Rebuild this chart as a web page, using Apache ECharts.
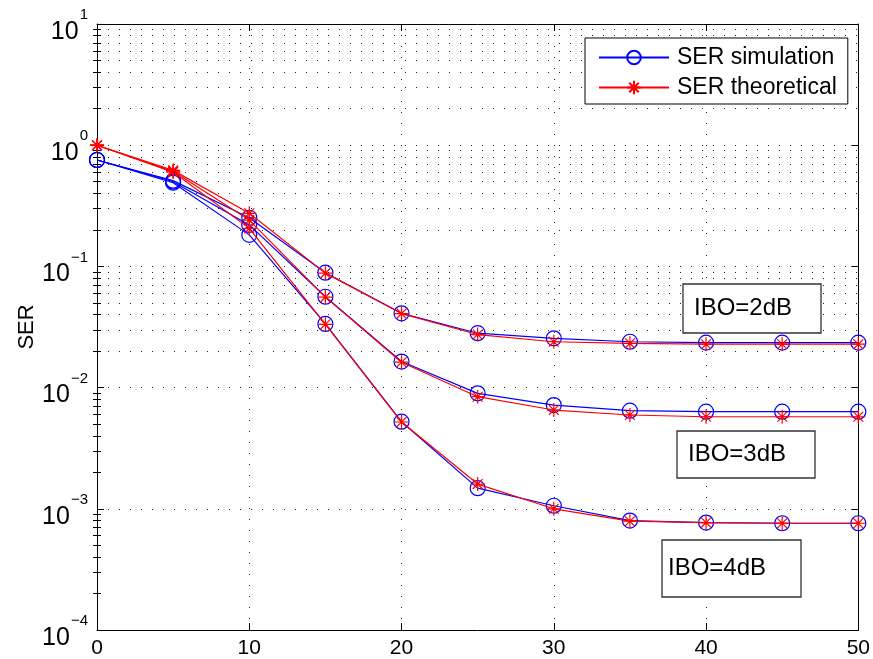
<!DOCTYPE html>
<html><head><meta charset="utf-8">
<script src="https://cdn.jsdelivr.net/npm/echarts@6/dist/echarts.min.js"></script>
<style>html,body{margin:0;padding:0;background:#fff}#c{width:873px;height:659px}</style>
</head><body><div id="c"></div>
<script>
// ---- data ----
const xValues = [0, 5, 10, 15, 20, 25, 30, 35, 40, 45, 50];
const simIBO2  = [0.755, 0.51, 0.252, 0.0887, 0.0410, 0.0281, 0.0255, 0.0239, 0.0235, 0.0235, 0.0235];
const theoIBO2 = [1.0,   0.62, 0.274, 0.0880, 0.0408, 0.0274, 0.0239, 0.0232, 0.0228, 0.0228, 0.0228];
const simIBO3  = [0.755, 0.50, 0.220, 0.0562, 0.0164, 0.00897, 0.00718, 0.00645, 0.00633, 0.00633, 0.00633];
const theoIBO3 = [1.0,   0.61, 0.241, 0.0558, 0.0162, 0.00841, 0.00653, 0.00594, 0.00575, 0.00575, 0.00575];
const simIBO4  = [0.755, 0.49, 0.182, 0.0335, 0.00523, 0.00148, 0.00106, 0.00080, 0.00077, 0.00076, 0.00076];
const theoIBO4 = [1.0,   0.60, 0.206, 0.0333, 0.00520, 0.00160, 0.00100, 0.00079, 0.00077, 0.00076, 0.00076];
const legendNames = ['SER simulation', 'SER theoretical'];
const annotations = ['IBO=2dB', 'IBO=3dB', 'IBO=4dB'];
const yAxisName = 'SER';
const xTickValues = [0, 10, 20, 30, 40, 50];
const yDecadeExponents = [-4, -3, -2, -1, 0, 1];
const minorMultipliers = [2, 3, 4, 5, 6, 7, 8, 9];

// ---- helpers ----
const FONT = 'Liberation Sans, Arial, Helvetica, sans-serif';
const BLUE = '#0000ff', RED = '#ff0000';
const yMin = Math.pow(10, yDecadeExponents[0]);
const yMax = Math.pow(10, yDecadeExponents[yDecadeExponents.length - 1]);
const minorValues = [];
yDecadeExponents.slice(0, -1).forEach(e => minorMultipliers.forEach(m => minorValues.push(+(m * Math.pow(10, e)).toPrecision(3))));
const dotted = { type: [1, 10], color: '#222', width: 1 };
const STAR = 'path://M0,-10L0,10M-10,0L10,0M-7,-7L7,7M-7,7L7,-7';

function pairs(ys) { return xValues.map((x, i) => [x, ys[i]]); }
function simSeries(ys) {
  return { name: legendNames[0], type: 'line', data: pairs(ys), z: 3,
    symbol: 'circle', symbolSize: 15,
    itemStyle: { color: 'none', borderColor: BLUE, borderWidth: 1.2 },
    lineStyle: { color: BLUE, width: 1.2 } };
}
function theoSeries(ys) {
  return { name: legendNames[1], type: 'line', data: pairs(ys), z: 4,
    symbol: STAR, symbolSize: 14,
    itemStyle: { color: RED, borderColor: RED, borderWidth: 1.2 },
    lineStyle: { color: RED, width: 1.2 } };
}
const frameLine = { show: true, onZero: false, lineStyle: { color: '#000', width: 1 } };
function yAxisBase(pos) {
  return { type: 'log', logBase: 10, min: yMin, max: yMax, position: pos,
    axisLine: frameLine, splitLine: { show: false }, axisLabel: { show: false },
    axisTick: { show: true, inside: true, length: 7, lineStyle: { color: '#000' } } };
}
function yMinorAxis(pos) {
  const a = yAxisBase(pos);
  a.axisLine = { show: false };
  a.axisTick = { show: true, inside: true, length: 4, customValues: minorValues, lineStyle: { color: '#000' } };
  return a;
}
const yMain = yAxisBase('left');
yMain.splitLine = { show: true, lineStyle: dotted };
yMain.name = yAxisName;
yMain.nameLocation = 'middle';
yMain.nameGap = 59;
yMain.nameMoveOverlap = false;
yMain.nameTextStyle = { fontSize: 22, color: '#000', fontFamily: FONT };
yMain.axisLabel = {
  show: true, margin: 9,
  formatter: v => { const e = Math.round(Math.log10(v)); return '{b|10}{s|' + (e < 0 ? '\u2212' + (-e) : e) + '}'; },
  rich: {
    b: { fontSize: 25, fontFamily: FONT, color: '#000', lineHeight: 41, verticalAlign: 'bottom' },
    s: { fontSize: 15, fontFamily: FONT, color: '#000', verticalAlign: 'top', padding: [4, 0, 0, 1] }
  }
};

const annBoxes = [
  { x: 683, y: 284, w: 138, h: 49 },
  { x: 677, y: 431, w: 138, h: 47 },
  { x: 662, y: 540, w: 139, h: 57 }
];
const graphics = [];
annotations.forEach((t, i) => {
  const b = annBoxes[i];
  graphics.push({ type: 'rect', z: 100, shape: { x: b.x, y: b.y, width: b.w, height: b.h },
    style: { fill: '#fff', stroke: '#333', lineWidth: 1.3 } });
  graphics.push({ type: 'text', z: 101, x: b.x + (i === 2 ? 6 : 11), y: b.y + b.h / 2,
    style: { text: t, fontSize: 24, fontFamily: FONT, fill: '#000', verticalAlign: 'middle' } });
});

const chart = echarts.init(document.getElementById('c'), null, { renderer: 'canvas' });
chart.setOption({
  animation: false,
  backgroundColor: '#fff',
  grid: { left: 97, right: 12, top: 24, bottom: 29 },
  legend: {
    data: legendNames, orient: 'vertical', left: 585, top: 38,
    padding: [8, 11, 5, 13], itemGap: 7, itemWidth: 70, itemHeight: 17,
    backgroundColor: '#fff', borderColor: '#000', borderWidth: 1, z: 110,
    textStyle: { fontSize: 23, color: '#000', fontFamily: FONT, padding: [0, 0, 0, 3] }
  },
  xAxis: [
    { type: 'value', min: xTickValues[0], max: xTickValues[xTickValues.length - 1], interval: 10, position: 'bottom',
      axisLine: frameLine,
      axisTick: { show: true, inside: true, length: 7, lineStyle: { color: '#000' } },
      axisLabel: { fontSize: 21, color: '#000', fontFamily: FONT, margin: 8 },
      splitLine: { show: true, lineStyle: dotted } },
    { type: 'value', min: xTickValues[0], max: xTickValues[xTickValues.length - 1], interval: 10, position: 'top',
      axisLine: frameLine,
      axisTick: { show: true, inside: true, length: 7, lineStyle: { color: '#000' } },
      axisLabel: { show: false }, splitLine: { show: false } }
  ],
  yAxis: [yMain, yAxisBase('right'), yMinorAxis('left'), yMinorAxis('right')],
  series: [
    { type: 'line', name: 'grid-minor', data: [], z: 1, silent: true,
      markLine: { silent: true, symbol: 'none', label: { show: false }, lineStyle: dotted,
        data: minorValues.map(v => ({ yAxis: v })) } },
    simSeries(simIBO2), theoSeries(theoIBO2),
    simSeries(simIBO3), theoSeries(theoIBO3),
    simSeries(simIBO4), theoSeries(theoIBO4)
  ],
  graphic: graphics
});
</script>
</body></html>
